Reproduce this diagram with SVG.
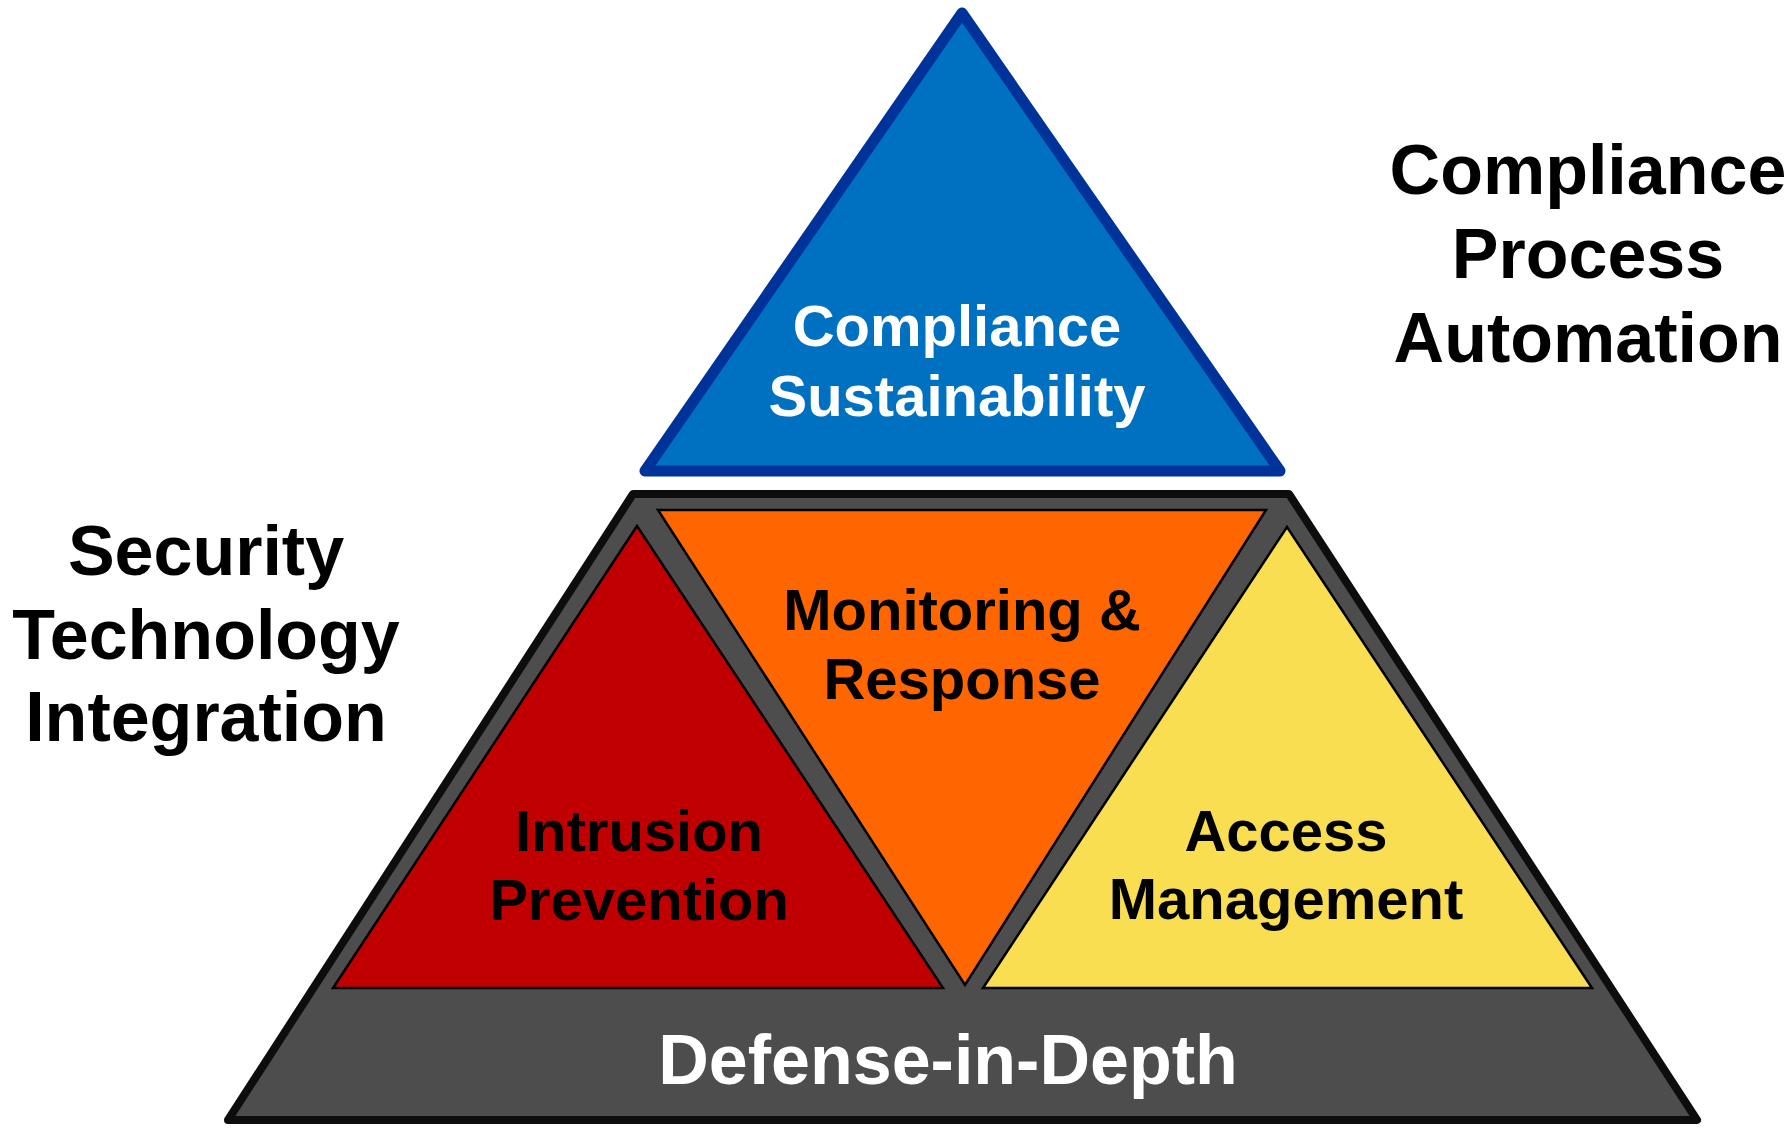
<svg xmlns="http://www.w3.org/2000/svg" width="1788" height="1128" viewBox="0 0 1788 1128">
  <style>
    text { font-family: "Liberation Sans", Arial, sans-serif; font-weight: bold; text-anchor: middle; }
    .big { font-size: 70px; fill: #000000; }
    .mid { font-size: 58px; fill: #000000; }
    .white { fill: #ffffff; }
    .inner { stroke: #000000; stroke-width: 2.5; stroke-linejoin: miter; }
  </style>
  <rect width="1788" height="1128" fill="#ffffff"/>

  <!-- top: compliance sustainability -->
  <g id="compliance-sustainability">
    <polygon points="962,13 645,471 1280,471" fill="#0070C0" stroke="#003399" stroke-width="11" stroke-linejoin="round"/>
    <text class="mid white" x="957" y="346">Compliance</text>
    <text class="mid white" x="957" y="416">Sustainability</text>
  </g>

  <!-- base: defense-in-depth trapezoid -->
  <g id="defense-in-depth">
    <polygon points="633,494 1289,494 1697,1120 228,1120" fill="#4D4D4D" stroke="#0D0D0D" stroke-width="8" stroke-linejoin="round"/>
    <text class="big white" x="948" y="1084">Defense-in-Depth</text>
  </g>

  <g id="intrusion-prevention">
    <polygon class="inner" points="637,526 333,988 943,988" fill="#C00000"/>
    <text class="mid" x="639" y="851">Intrusion</text>
    <text class="mid" x="639" y="920">Prevention</text>
  </g>

  <g id="monitoring-response">
    <polygon class="inner" points="658,510 1266,510 965,985" fill="#FF6600"/>
    <text class="mid" x="962" y="630">Monitoring &amp;</text>
    <text class="mid" x="962" y="699">Response</text>
  </g>

  <g id="access-management">
    <polygon class="inner" points="1287,527 983,988 1592,988" fill="#F9DE52"/>
    <text class="mid" x="1286" y="851">Access</text>
    <text class="mid" x="1286" y="919">Management</text>
  </g>

  <!-- side captions -->
  <g id="security-technology-integration">
    <text class="big" x="206" y="575">Security</text>
    <text class="big" x="206" y="659">Technology</text>
    <text class="big" x="206" y="741">Integration</text>
  </g>

  <g id="compliance-process-automation">
    <text class="big" x="1588" y="194">Compliance</text>
    <text class="big" x="1588" y="278">Process</text>
    <text class="big" x="1588" y="362">Automation</text>
  </g>
</svg>
